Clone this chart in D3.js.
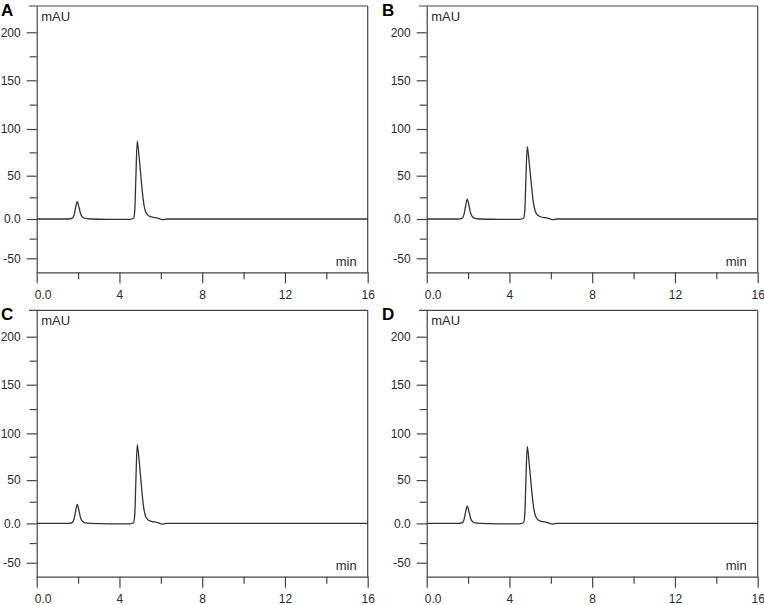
<!DOCTYPE html>
<html>
<head>
<meta charset="utf-8">
<script src="https://cdn.jsdelivr.net/npm/d3@7"></script>
<style>
  body { margin: 0; background: #fff; }
  svg { display: block; font-family: "Liberation Sans", Arial, sans-serif; }
</style>
</head>
<body>
<svg id="chart" width="764" height="605"></svg>
<script>
"use strict";

// Retention time (min), shared by the four runs
const times = [0, 1.55, 1.7, 1.8, 1.88, 1.96, 2.04, 2.12, 2.22, 2.35, 2.6, 3.5, 4.5, 4.68, 4.74, 4.79, 4.86, 4.95, 5.06, 5.15, 5.24, 5.35, 5.5, 5.8, 6.1, 6.3, 10, 16];

// Detector signal (mAU) of each run
const traceA = [0, 0, 0.6, 4, 13, 20, 14, 6, 2, 0.6, 0, -0.6, -0.5, 0.8, 10, 45, 87, 70, 43, 22, 10, 5, 2.7, 1.2, -0.8, 0, 0, 0];
const traceB = [0, 0, 0.7, 5, 15, 23, 16, 7, 2.3, 0.7, 0, -0.6, -0.5, 0.8, 9, 42, 81, 65, 40, 20, 9.5, 4.8, 2.6, 1.2, -0.8, 0, 0, 0];
const traceC = [0, 0, 0.6, 4.5, 14, 22, 15, 6.5, 2.2, 0.6, 0, -0.6, -0.5, 0.8, 10, 46, 88, 71, 44, 22, 10, 5, 2.7, 1.2, -0.8, 0, 0, 0];
const traceD = [0, 0, 0.6, 4, 13, 20, 14, 6, 2, 0.6, 0, -0.6, -0.5, 0.8, 10, 45, 86, 69, 42, 21.5, 10, 5, 2.7, 1.2, -0.8, 0, 0, 0];

const panelNames = ["A", "B", "C", "D"];
const traces = [traceA, traceB, traceC, traceD];

// Tick values
const xMajor = [0, 4, 8, 12, 16];
const xMinor = [2, 6, 10, 14];
const yMajor = [-50, 0, 50, 100, 150, 200];
const yMinor = [-25, 25, 75, 125, 175];

// Layout
const plotW = 331;
const plotH = 266.3;
const panelPos = [[36.7, 6], [426.7, 6], [36.7, 310.4], [426.7, 310.4]];
const letterPos = [[1, 16], [382, 16], [1, 320], [382, 320]];

const axisColor = "#444";
const textColor = "#2a2a2a";

const fmt = (v) => (v === 0 ? "0.0" : String(v));

// Scales
const x = d3.scaleLinear().domain([0, 16]).range([0, plotW]);
// The scanned y axis is not evenly spaced, so the scale is piecewise
const y = d3.scaleLinear()
  .domain([-68, -50, 0, 50, 100, 150, 200, 227])
  .range([plotH, 252.3, 213, 169.7, 123, 74.3, 26.3, 0]);

const line = d3.line()
  .x((d) => x(d[0]))
  .y((d) => y(d[1]))
  .curve(d3.curveMonotoneX);

const svg = d3.select("#chart");

function styleAxis(g) {
  g.selectAll("path, line").attr("stroke", axisColor).attr("stroke-width", 1.2);
  g.selectAll("text").attr("fill", textColor).style("font-size", "12px");
}

panelNames.forEach((name, i) => {
  const g = svg.append("g")
    .attr("transform", `translate(${panelPos[i][0]},${panelPos[i][1]})`);

  // Frame: top and right edges
  g.append("line")
    .attr("x1", -7.7).attr("x2", plotW)
    .attr("y1", 0).attr("y2", 0)
    .attr("stroke", axisColor).attr("stroke-width", 1.2);
  g.append("line")
    .attr("x1", plotW).attr("x2", plotW)
    .attr("y1", 0).attr("y2", plotH)
    .attr("stroke", axisColor).attr("stroke-width", 1.2);

  // Y axis
  const yAxis = g.append("g")
    .call(d3.axisLeft(y).tickValues(yMajor).tickSize(10).tickSizeOuter(0).tickPadding(6).tickFormat(fmt));
  styleAxis(yAxis);
  const yMinorAxis = g.append("g")
    .call(d3.axisLeft(y).tickValues(yMinor).tickSize(7).tickFormat(""));
  yMinorAxis.select(".domain").remove();
  styleAxis(yMinorAxis);

  // X axis
  const xAxis = g.append("g")
    .attr("transform", `translate(0,${plotH})`)
    .call(d3.axisBottom(x).tickValues(xMajor).tickSize(11).tickSizeOuter(0).tickPadding(7).tickFormat(fmt));
  styleAxis(xAxis);
  xAxis.selectAll(".tick text").filter((d) => d === 0).attr("dx", 6);
  const xMinorAxis = g.append("g")
    .attr("transform", `translate(0,${plotH})`)
    .call(d3.axisBottom(x).tickValues(xMinor).tickSize(7).tickFormat(""));
  xMinorAxis.select(".domain").remove();
  styleAxis(xMinorAxis);

  // Unit labels
  g.append("text")
    .attr("x", 4.5).attr("y", 15)
    .attr("fill", textColor)
    .style("font-size", "13px")
    .text("mAU");
  g.append("text")
    .attr("x", 320).attr("y", 260)
    .attr("text-anchor", "end")
    .attr("fill", textColor)
    .style("font-size", "13px")
    .text("min");

  // Chromatogram trace
  const points = times.map((t, k) => [t, traces[i][k]]);
  g.append("path")
    .datum(points)
    .attr("d", line)
    .attr("fill", "none")
    .attr("stroke", "#333")
    .attr("stroke-width", 1.3)
    .attr("stroke-linejoin", "round");

  // Panel letter
  svg.append("text")
    .attr("x", letterPos[i][0]).attr("y", letterPos[i][1])
    .style("font-size", "17px")
    .style("font-weight", "bold")
    .attr("fill", "#000")
    .text(name);
});
</script>
</body>
</html>
